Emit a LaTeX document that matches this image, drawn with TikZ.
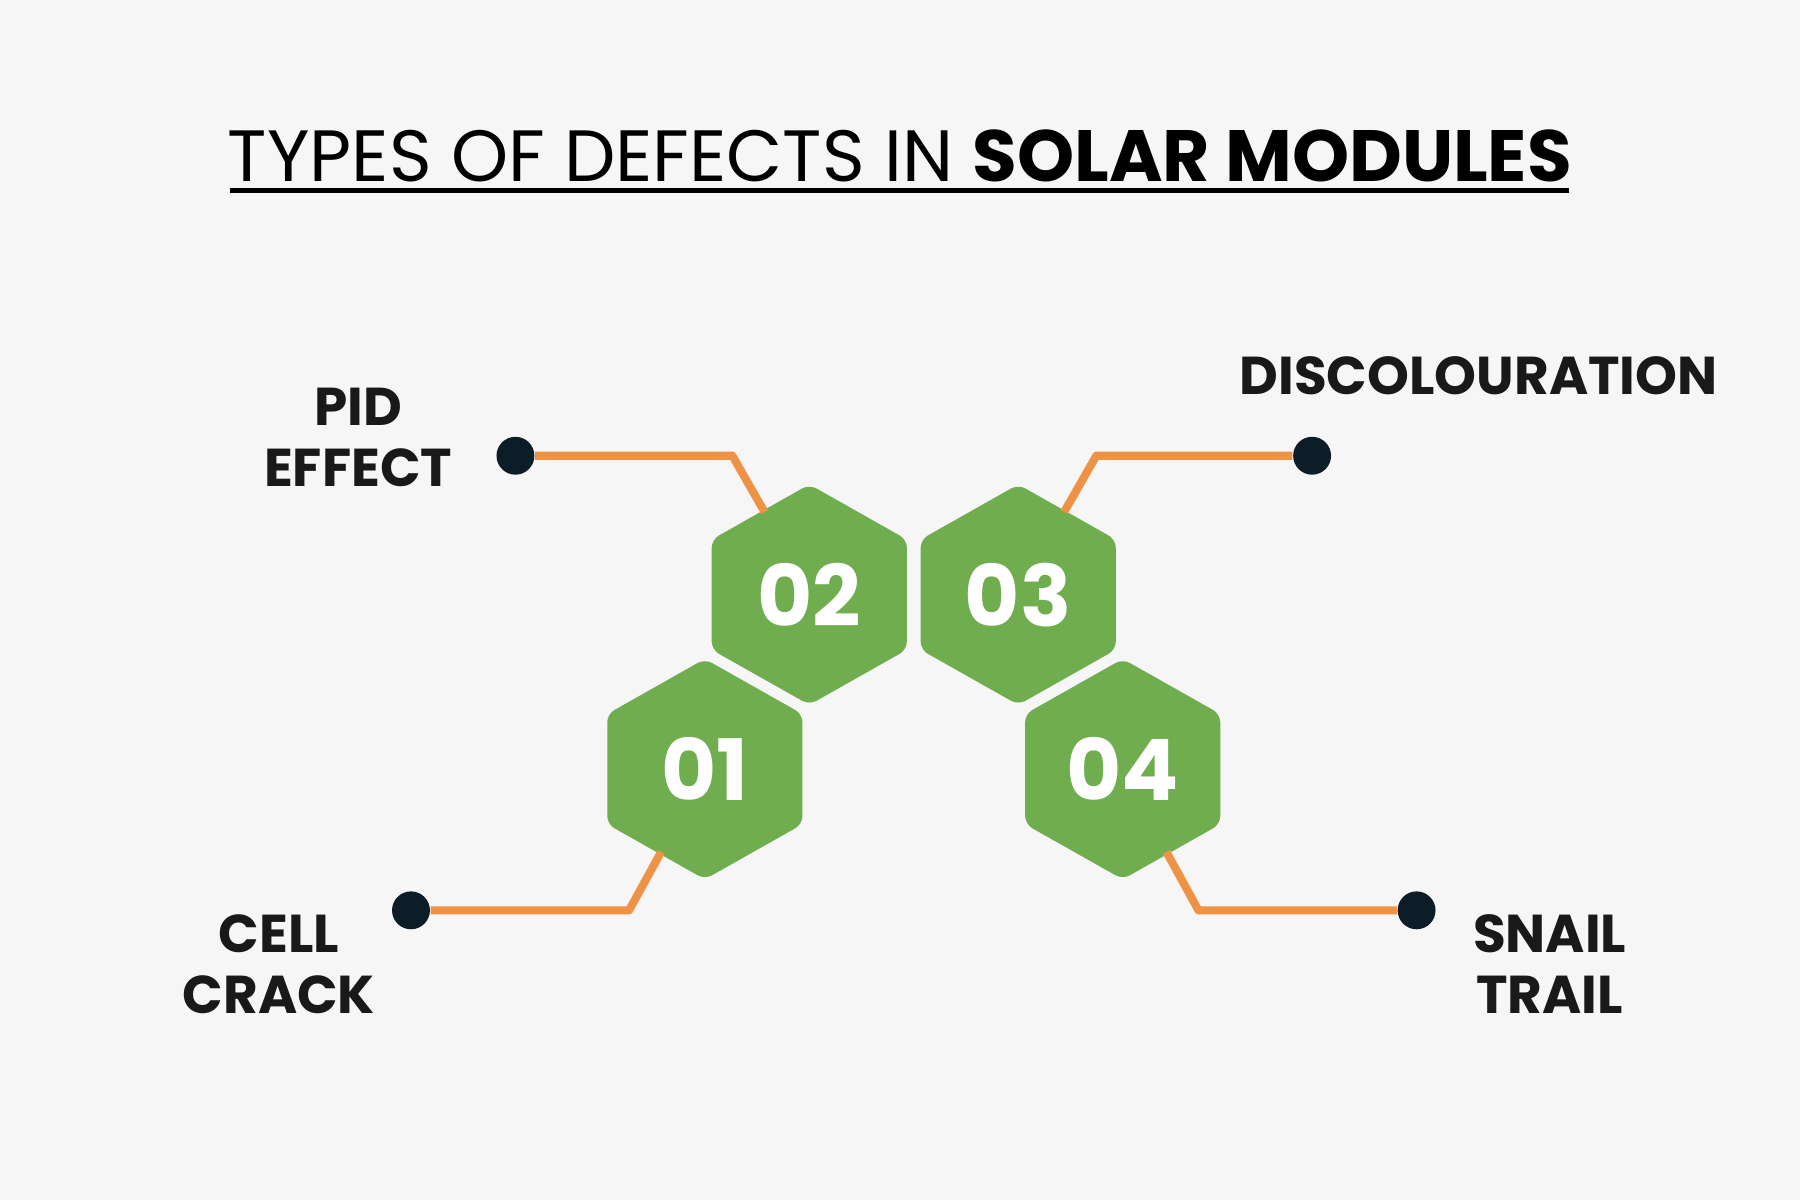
\documentclass[tikz,border=0pt]{standalone}
\usepackage{fontspec}
\setmainfont{Poppins}
\definecolor{bg}{HTML}{F6F6F6}
\definecolor{hexg}{HTML}{70AD4F}
\definecolor{lino}{HTML}{EE9346}
\definecolor{dotc}{HTML}{0C1D28}
\begin{document}
\begin{tikzpicture}[x=0.01cm,y=-0.01cm,
  hex/.style={fill=hexg,rounded corners=2pt},
  num/.style={text=white,font=\fontsize{21}{21}\selectfont\bfseries},
  lbl/.style={text=black!90,font=\fontsize{13.2}{15}\selectfont\bfseries,align=center},
  conn/.style={draw=lino,line width=2pt,line join=round},
  dot/.style={circle,fill=dotc,minimum size=0.33cm,inner sep=0}]
\fill[bg] (0,0) rectangle (1568,1045);
\useasboundingbox (0,0) rectangle (1568,1045);
\node (title) at (784,136) {\fontsize{18}{18}\selectfont TYPES OF DEFECTS IN \textbf{SOLAR MODULES}};
\draw[line width=1.3pt] (200,166) -- (1367,166);
\foreach \n/\x/\y in {h2/705/518,h3/887/518,h1/614/670,h4/978/670}{
  \fill[hex] (\x,\y-96) -- (\x+85,\y-48) -- (\x+85,\y+48) -- (\x,\y+96) -- (\x-85,\y+48) -- (\x-85,\y-48) -- cycle;
  \coordinate (\n) at (\x,\y);
}
\node[num] at (h2) {02};
\node[num] at (h3) {03};
\node[num] at (h1) {01};
\node[num] at (h4) {04};
\node[dot] (d2) at (449,397) {};
\node[dot] (d3) at (1143,397) {};
\node[dot] (d1) at (358,793) {};
\node[dot] (d4) at (1234,793) {};
\coordinate (e2) at (666,446); \coordinate (e3) at (927,446);
\coordinate (e1) at (576,742); \coordinate (e4) at (1016,742);
\draw[conn] (d2) -- (638,397) -- (e2);
\draw[conn] (d3) -- (955,397) -- (e3);
\draw[conn] (d1) -- (548,793) -- (e1);
\draw[conn] (d4) -- (1044,793) -- (e4);
\node[lbl] (l2) at (312,381) {PID\\EFFECT};
\node[lbl] (l3) at (1288,327) {DISCOLOURATION};
\node[lbl] (l1) at (243,840) {CELL\\CRACK};
\node[lbl] (l4) at (1350,840) {SNAIL\\TRAIL};
\end{tikzpicture}
\end{document}
